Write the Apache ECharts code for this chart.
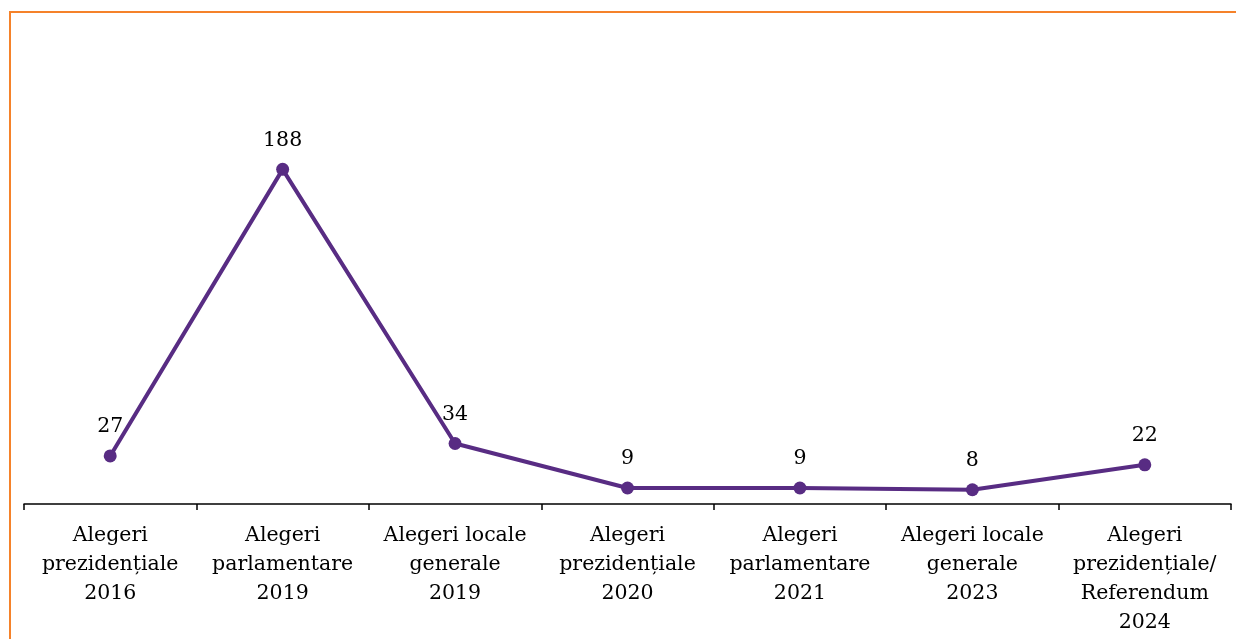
<!DOCTYPE html>
<html>
<head>
<meta charset="utf-8">
<script src="https://cdn.jsdelivr.net/npm/echarts@6/dist/echarts.min.js"></script>
<style>
  html, body { margin: 0; padding: 0; background: #fff; overflow: hidden; }
  /* chenar portocaliu */
  #frame { position: absolute; left: 9px; top: 11px; width: 1400px; height: 800px;
           border-top: 2px solid #F5822A; border-left: 2px solid #F5822A; }
  #main { position: absolute; left: 0; top: 0; width: 1236px; height: 639px; }
</style>
</head>
<body>
<div id="frame"></div>
<div id="main"></div>
<script>
  // categorii (axa X)
  var categories = [
    'Alegeri\nprezidențiale\n2016',
    'Alegeri\nparlamentare\n2019',
    'Alegeri locale\ngenerale\n2019',
    'Alegeri\nprezidențiale\n2020',
    'Alegeri\nparlamentare\n2021',
    'Alegeri locale\ngenerale\n2023',
    'Alegeri\nprezidențiale/\nReferendum\n2024'
  ];
  // valori
  var values = [27, 188, 34, 9, 9, 8, 22];

  var lineColor = '#582C83';
  var myChart = echarts.init(document.getElementById('main'));

  myChart.setOption({
    animation: false,
    grid: {
      top: 148,
      left: 24,
      right: 5,
      bottom: 135
    },
    xAxis: [{
      type: 'category',
      data: categories,
      boundaryGap: true,
      axisLine: {
        lineStyle: { color: '#000', width: 1.5 }
      },
      axisTick: {
        show: true,
        length: 6,
        lineStyle: { color: '#000', width: 1.5 }
      },
      axisLabel: {
        interval: 0,
        margin: 17,
        color: '#000',
        fontFamily: 'DejaVu Serif',
        fontSize: 20.5,
        lineHeight: 29
      }
    }],
    yAxis: [{
      type: 'value',
      min: 0,
      max: 200,
      show: false,
      splitLine: { show: false }
    }],
    series: [{
      type: 'line',
      data: values,
      symbol: 'circle',
      symbolSize: 13,
      lineStyle: { color: lineColor, width: 4 },
      itemStyle: { color: lineColor },
      label: {
        show: true,
        position: 'top',
        distance: 12,
        color: '#000',
        fontFamily: 'DejaVu Serif',
        fontSize: 20.5
      }
    }]
  });
</script>
</body>
</html>
